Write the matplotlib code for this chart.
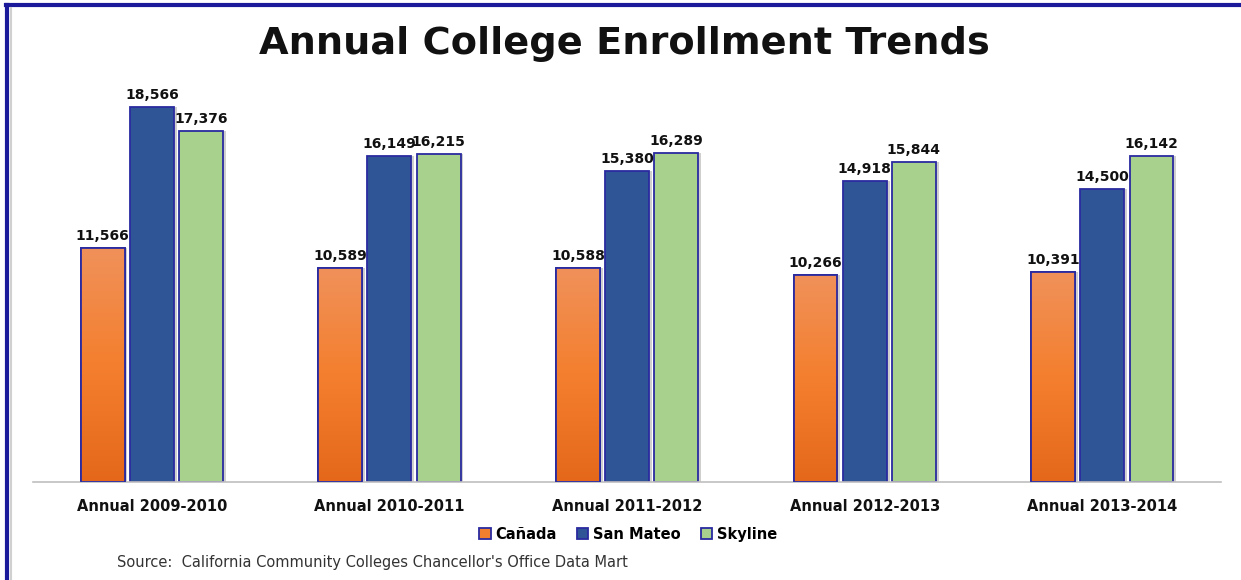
import numpy as np
import matplotlib
matplotlib.use("Agg")
import matplotlib.pyplot as plt
from matplotlib.lines import Line2D
from matplotlib.colors import LinearSegmentedColormap

years = ["Annual 2009-2010", "Annual 2010-2011", "Annual 2011-2012",
         "Annual 2012-2013", "Annual 2013-2014"]
canada = [11566, 10589, 10588, 10266, 10391]
san_mateo = [18566, 16149, 15380, 14918, 14500]
skyline = [17376, 16215, 16289, 15844, 16142]

series = [("Cañada", canada, "#F07F2F"),
          ("San Mateo", san_mateo, "#2F5597"),
          ("Skyline", skyline, "#A9D18E")]

edge = "#2A2AA0"
orange_grad = LinearSegmentedColormap.from_list(
    "og", ["#E5681A", "#F47F2E", "#F0915A"])

fig = plt.figure(figsize=(12.41, 5.80), dpi=100)
ax = fig.add_axes([0.0266, 0.169, 0.9574, 0.6965])

x = np.arange(len(years))
width = 0.185
step = 0.207

for i, (name, vals, color) in enumerate(series):
    pos = x + (i - 1) * step
    # light shadow on the right of each bar
    ax.bar(pos + 0.012, vals, width, color="#CFCFCF", zorder=1, linewidth=0)
    bars = ax.bar(pos, vals, width, color=color, edgecolor=edge,
                  linewidth=1.3, label=name, zorder=2)
    if name == "Cañada":
        for b in bars:
            grad = np.linspace(0, 1, 256).reshape(-1, 1)
            im = ax.imshow(grad, cmap=orange_grad, origin="lower",
                           extent=[b.get_x(), b.get_x() + b.get_width(), 0, b.get_height()],
                           aspect="auto", zorder=2.5)
            im.set_clip_path(b)
            ax.bar(b.get_x() + b.get_width() / 2, b.get_height(), width,
                   fill=False, edgecolor=edge, linewidth=1.3, zorder=3)
    for p, v in zip(pos, vals):
        ax.text(p, v + 250, f"{v:,}", ha="center", va="bottom",
                fontsize=10, fontweight="bold", color="#111111", zorder=4)

ax.set_xlim(-0.5, 4.5)
ax.set_ylim(0, 20000)
ax.set_xticks(x)
ax.set_xticklabels(years, fontsize=10.5, fontweight="bold", color="#111111")
ax.tick_params(axis="x", length=0, pad=12)
ax.set_yticks([])
for s in ["top", "right", "left"]:
    ax.spines[s].set_visible(False)
ax.spines["bottom"].set_color("#BFBFBF")
ax.spines["bottom"].set_linewidth(1.2)

fig.text(0.503, 0.925, "Annual College Enrollment Trends", ha="center",
         va="center", fontsize=27.5, fontweight="bold", color="#111111")

handles, labels = ax.get_legend_handles_labels()
leg = fig.legend(handles, labels, loc="center", bbox_to_anchor=(0.506, 0.079),
                 ncol=3, frameon=False, prop={"weight": "bold", "size": 10.5},
                 handlelength=0.8, handleheight=0.8, handletextpad=0.3,
                 columnspacing=1.4)

fig.text(0.094, 0.031, "Source:  California Community Colleges Chancellor's Office Data Mart",
         ha="left", va="center", fontsize=10.5, color="#333333")

# frame border on top and left
fig.add_artist(Line2D([0.005, 1.0], [0.991, 0.991], transform=fig.transFigure,
                      color="#1A1A9A", linewidth=3))
fig.add_artist(Line2D([0.0056, 0.0056], [0.0, 0.991], transform=fig.transFigure,
                      color="#1A1A9A", linewidth=3))
fig.add_artist(Line2D([0.0085, 0.0085], [0.0, 0.987], transform=fig.transFigure,
                      color="#D0D0D0", linewidth=1.5))

fig.savefig("out.png", dpi=100)
